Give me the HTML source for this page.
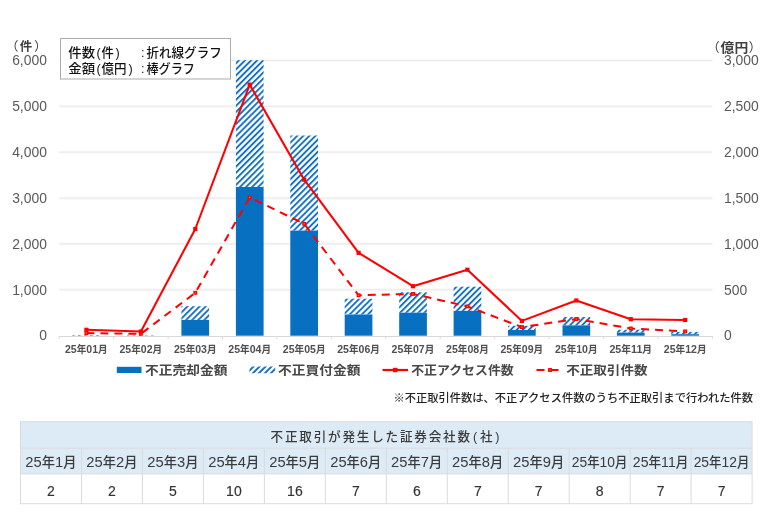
<!DOCTYPE html>
<html lang="ja">
<head>
<meta charset="utf-8">
<title>不正アクセス・不正取引の状況</title>
<style>
html,body{margin:0;padding:0;background:#fff;}
body{width:768px;height:531px;overflow:hidden;}
svg{display:block;}
text{font-family:"Liberation Sans", "Noto Sans CJK JP", sans-serif;}
.ax{font-size:13.9px;fill:#595959;}
.cat{font-size:10.2px;font-weight:700;fill:#505050;}
.cd{font-size:11.2px;}
.lg{font-size:12.5px;font-weight:700;fill:#484848;}
.th{font-size:13.3px;font-weight:500;fill:#3a3a3a;}
.dg{font-size:14.8px;}
.td{font-size:14px;font-weight:400;fill:#333;stroke:#333;stroke-width:0.15px;}
</style>
</head>
<body>
<svg width="768" height="531" viewBox="0 0 768 531">
<defs>
<pattern id="hatch" width="4.3" height="4" patternUnits="userSpaceOnUse" patternTransform="rotate(45)">
<rect x="0" y="0" width="4.3" height="4" fill="#ffffff"/>
<rect x="0" y="0" width="1.9" height="4" fill="#1271c2"/>
</pattern>
</defs>
<rect x="0" y="0" width="768" height="531" fill="#ffffff"/>

<g stroke="#f7f7f7" stroke-width="2.6" fill="none">
<line x1="59.2" y1="60.5" x2="712.4" y2="60.5"/>
<line x1="59.2" y1="106.3" x2="712.4" y2="106.3"/>
<line x1="59.2" y1="152.2" x2="712.4" y2="152.2"/>
<line x1="59.2" y1="198.1" x2="712.4" y2="198.1"/>
<line x1="59.2" y1="243.9" x2="712.4" y2="243.9"/>
<line x1="59.2" y1="289.8" x2="712.4" y2="289.8"/>
</g>
<g stroke="#eaeaea" stroke-width="1" fill="none">
<line x1="59.2" y1="60.5" x2="712.4" y2="60.5"/>
<line x1="59.2" y1="106.3" x2="712.4" y2="106.3"/>
<line x1="59.2" y1="152.2" x2="712.4" y2="152.2"/>
<line x1="59.2" y1="198.1" x2="712.4" y2="198.1"/>
<line x1="59.2" y1="243.9" x2="712.4" y2="243.9"/>
<line x1="59.2" y1="289.8" x2="712.4" y2="289.8"/>
</g>
<g stroke="#d9d9d9" stroke-width="1" fill="none">
<line x1="59.2" y1="336.5" x2="712.4" y2="336.5"/>
<line x1="59.2" y1="336" x2="59.2" y2="339"/>
<line x1="113.6" y1="336" x2="113.6" y2="339"/>
<line x1="168.1" y1="336" x2="168.1" y2="339"/>
<line x1="222.5" y1="336" x2="222.5" y2="339"/>
<line x1="276.9" y1="336" x2="276.9" y2="339"/>
<line x1="331.4" y1="336" x2="331.4" y2="339"/>
<line x1="385.8" y1="336" x2="385.8" y2="339"/>
<line x1="440.2" y1="336" x2="440.2" y2="339"/>
<line x1="494.7" y1="336" x2="494.7" y2="339"/>
<line x1="549.1" y1="336" x2="549.1" y2="339"/>
<line x1="603.5" y1="336" x2="603.5" y2="339"/>
<line x1="658.0" y1="336" x2="658.0" y2="339"/>
<line x1="712.4" y1="336" x2="712.4" y2="339"/>
</g>
<g>
<rect x="72.6" y="335.1" width="27.7" height="0.6" fill="url(#hatch)"/>
<rect x="72.6" y="335.7" width="27.7" height="0.0" fill="#0870c1"/>
<rect x="127.0" y="335.3" width="27.7" height="0.4" fill="url(#hatch)"/>
<rect x="127.0" y="335.7" width="27.7" height="0.0" fill="#0870c1"/>
<rect x="181.4" y="306.2" width="27.7" height="13.7" fill="url(#hatch)"/>
<rect x="181.4" y="319.9" width="27.7" height="15.8" fill="#0870c1"/>
<rect x="235.9" y="60.2" width="27.7" height="126.8" fill="url(#hatch)"/>
<rect x="235.9" y="187.0" width="27.7" height="148.7" fill="#0870c1"/>
<rect x="290.3" y="135.5" width="27.7" height="95.1" fill="url(#hatch)"/>
<rect x="290.3" y="230.6" width="27.7" height="105.1" fill="#0870c1"/>
<rect x="344.7" y="298.7" width="27.7" height="15.8" fill="url(#hatch)"/>
<rect x="344.7" y="314.5" width="27.7" height="21.2" fill="#0870c1"/>
<rect x="399.2" y="292.3" width="27.7" height="20.4" fill="url(#hatch)"/>
<rect x="399.2" y="312.7" width="27.7" height="23.0" fill="#0870c1"/>
<rect x="453.6" y="286.7" width="27.7" height="24.2" fill="url(#hatch)"/>
<rect x="453.6" y="310.9" width="27.7" height="24.8" fill="#0870c1"/>
<rect x="508.0" y="325.8" width="27.7" height="4.2" fill="url(#hatch)"/>
<rect x="508.0" y="330.0" width="27.7" height="5.7" fill="#0870c1"/>
<rect x="562.5" y="317.0" width="27.7" height="8.4" fill="url(#hatch)"/>
<rect x="562.5" y="325.4" width="27.7" height="10.3" fill="#0870c1"/>
<rect x="616.9" y="329.7" width="27.7" height="2.9" fill="url(#hatch)"/>
<rect x="616.9" y="332.6" width="27.7" height="3.1" fill="#0870c1"/>
<rect x="671.3" y="331.9" width="27.7" height="2.3" fill="url(#hatch)"/>
<rect x="671.3" y="334.2" width="27.7" height="1.5" fill="#0870c1"/>
</g>
<polyline points="86.4,333.1 140.9,333.8 195.3,292.8 249.7,197.4 304.2,223.8 358.6,295.3 413.0,293.9 467.4,306.4 521.9,327.1 576.3,319.0 630.8,328.5 685.2,331.4" fill="none" stroke="#ff0000" stroke-width="2" stroke-dasharray="8 6" stroke-linejoin="round"/>
<polyline points="86.4,329.8 140.9,331.5 195.3,229.0 249.7,84.6 304.2,179.7 358.6,252.8 413.0,286.2 467.4,269.7 521.9,320.9 576.3,300.5 630.8,319.2 685.2,320.0" fill="none" stroke="#ff0000" stroke-width="2.05" stroke-linejoin="round"/>
<rect x="85.1" y="331.8" width="2.6" height="2.6" fill="#f7701a" stroke="#ff0000" stroke-width="1.3"/>
<rect x="139.6" y="332.5" width="2.6" height="2.6" fill="#f7701a" stroke="#ff0000" stroke-width="1.3"/>
<rect x="194.0" y="291.5" width="2.6" height="2.6" fill="#f7701a" stroke="#ff0000" stroke-width="1.3"/>
<rect x="248.4" y="196.1" width="2.6" height="2.6" fill="#f7701a" stroke="#ff0000" stroke-width="1.3"/>
<rect x="302.9" y="222.5" width="2.6" height="2.6" fill="#f7701a" stroke="#ff0000" stroke-width="1.3"/>
<rect x="357.3" y="294.0" width="2.6" height="2.6" fill="#f7701a" stroke="#ff0000" stroke-width="1.3"/>
<rect x="411.7" y="292.6" width="2.6" height="2.6" fill="#f7701a" stroke="#ff0000" stroke-width="1.3"/>
<rect x="466.1" y="305.1" width="2.6" height="2.6" fill="#f7701a" stroke="#ff0000" stroke-width="1.3"/>
<rect x="520.6" y="325.8" width="2.6" height="2.6" fill="#f7701a" stroke="#ff0000" stroke-width="1.3"/>
<rect x="575.0" y="317.7" width="2.6" height="2.6" fill="#f7701a" stroke="#ff0000" stroke-width="1.3"/>
<rect x="629.5" y="327.2" width="2.6" height="2.6" fill="#f7701a" stroke="#ff0000" stroke-width="1.3"/>
<rect x="683.9" y="330.1" width="2.6" height="2.6" fill="#f7701a" stroke="#ff0000" stroke-width="1.3"/>
<rect x="84.3" y="327.7" width="4.2" height="4.2" fill="#ff0000"/>
<rect x="138.8" y="329.4" width="4.2" height="4.2" fill="#ff0000"/>
<rect x="193.2" y="226.9" width="4.2" height="4.2" fill="#ff0000"/>
<rect x="247.6" y="82.5" width="4.2" height="4.2" fill="#ff0000"/>
<rect x="302.1" y="177.6" width="4.2" height="4.2" fill="#ff0000"/>
<rect x="356.5" y="250.7" width="4.2" height="4.2" fill="#ff0000"/>
<rect x="410.9" y="284.1" width="4.2" height="4.2" fill="#ff0000"/>
<rect x="465.3" y="267.6" width="4.2" height="4.2" fill="#ff0000"/>
<rect x="519.8" y="318.8" width="4.2" height="4.2" fill="#ff0000"/>
<rect x="574.2" y="298.4" width="4.2" height="4.2" fill="#ff0000"/>
<rect x="628.7" y="317.1" width="4.2" height="4.2" fill="#ff0000"/>
<rect x="683.1" y="317.9" width="4.2" height="4.2" fill="#ff0000"/>
<text class="ax" x="46.9" y="65.3" text-anchor="end">6,000</text>
<text class="ax" x="46.9" y="111.1" text-anchor="end">5,000</text>
<text class="ax" x="46.9" y="157.0" text-anchor="end">4,000</text>
<text class="ax" x="46.9" y="202.9" text-anchor="end">3,000</text>
<text class="ax" x="46.9" y="248.7" text-anchor="end">2,000</text>
<text class="ax" x="46.9" y="294.6" text-anchor="end">1,000</text>
<text class="ax" x="46.9" y="340.4" text-anchor="end">0</text>
<text class="ax" x="724" y="65.3">3,000</text>
<text class="ax" x="724" y="111.1">2,500</text>
<text class="ax" x="724" y="157.0">2,000</text>
<text class="ax" x="724" y="202.9">1,500</text>
<text class="ax" x="724" y="248.7">1,000</text>
<text class="ax" x="724" y="294.6">500</text>
<text class="ax" x="724" y="340.4">0</text>
<text font-size="12.4" font-weight="700" fill="#404040"><tspan x="6.0" y="50.6" font-weight="400">（</tspan><tspan x="19.7" y="50.9">件</tspan><tspan x="34.2" y="50.6" font-weight="400">）</tspan></text>
<text font-size="12.6" font-weight="700" fill="#404040"><tspan x="707.0" y="52" font-weight="400">（</tspan><tspan x="720.6" y="52.2" textLength="27.6" lengthAdjust="spacingAndGlyphs">億円</tspan><tspan x="748.8" y="52" font-weight="400">）</tspan></text>
<text class="cat" x="65.0" y="353.4" textLength="42.7" lengthAdjust="spacingAndGlyphs"><tspan class="cd">25</tspan>年<tspan class="cd">01</tspan>月</text>
<text class="cat" x="119.5" y="353.4" textLength="42.7" lengthAdjust="spacingAndGlyphs"><tspan class="cd">25</tspan>年<tspan class="cd">02</tspan>月</text>
<text class="cat" x="173.9" y="353.4" textLength="42.7" lengthAdjust="spacingAndGlyphs"><tspan class="cd">25</tspan>年<tspan class="cd">03</tspan>月</text>
<text class="cat" x="228.3" y="353.4" textLength="42.7" lengthAdjust="spacingAndGlyphs"><tspan class="cd">25</tspan>年<tspan class="cd">04</tspan>月</text>
<text class="cat" x="282.8" y="353.4" textLength="42.7" lengthAdjust="spacingAndGlyphs"><tspan class="cd">25</tspan>年<tspan class="cd">05</tspan>月</text>
<text class="cat" x="337.2" y="353.4" textLength="42.7" lengthAdjust="spacingAndGlyphs"><tspan class="cd">25</tspan>年<tspan class="cd">06</tspan>月</text>
<text class="cat" x="391.6" y="353.4" textLength="42.7" lengthAdjust="spacingAndGlyphs"><tspan class="cd">25</tspan>年<tspan class="cd">07</tspan>月</text>
<text class="cat" x="446.1" y="353.4" textLength="42.7" lengthAdjust="spacingAndGlyphs"><tspan class="cd">25</tspan>年<tspan class="cd">08</tspan>月</text>
<text class="cat" x="500.5" y="353.4" textLength="42.7" lengthAdjust="spacingAndGlyphs"><tspan class="cd">25</tspan>年<tspan class="cd">09</tspan>月</text>
<text class="cat" x="554.9" y="353.4" textLength="42.7" lengthAdjust="spacingAndGlyphs"><tspan class="cd">25</tspan>年<tspan class="cd">10</tspan>月</text>
<text class="cat" x="609.4" y="353.4" textLength="42.7" lengthAdjust="spacingAndGlyphs"><tspan class="cd">25</tspan>年<tspan class="cd">11</tspan>月</text>
<text class="cat" x="663.8" y="353.4" textLength="42.7" lengthAdjust="spacingAndGlyphs"><tspan class="cd">25</tspan>年<tspan class="cd">12</tspan>月</text>
<rect x="60.5" y="38.5" width="170" height="40.5" fill="#ffffff" stroke="#ababab" stroke-width="1"/>
<g font-size="12.6" font-weight="500" fill="#111">
<text y="56.6"><tspan x="68.3" textLength="26.8" lengthAdjust="spacingAndGlyphs">件数</tspan><tspan x="96.5">(</tspan><tspan x="101.4" textLength="12.3" lengthAdjust="spacingAndGlyphs">件</tspan><tspan x="115.6">)</tspan><tspan x="141">:</tspan></text>
<text y="72.6"><tspan x="68.3" textLength="26.8" lengthAdjust="spacingAndGlyphs">金額</tspan><tspan x="96.5">(</tspan><tspan x="101.4" textLength="25.0" lengthAdjust="spacingAndGlyphs">億円</tspan><tspan x="128.6">)</tspan><tspan x="141">:</tspan></text>
<text x="146.5" y="56.6" textLength="75.2" lengthAdjust="spacingAndGlyphs">折れ線グラフ</text>
<text x="146.5" y="72.6" textLength="48.3" lengthAdjust="spacingAndGlyphs">棒グラフ</text>
</g>
<rect x="116.8" y="366.8" width="24.7" height="6.2" fill="#0870c1"/>
<text class="lg" x="145" y="375" textLength="82.5" lengthAdjust="spacingAndGlyphs">不正売却金額</text>
<clipPath id="swc"><rect x="249.5" y="366.6" width="25.7" height="6.6"/></clipPath>
<g clip-path="url(#swc)" stroke="#1271c2" stroke-width="1.9" fill="none">
<line x1="245.9" y1="374.2" x2="254.5" y2="365.6"/>
<line x1="251.9" y1="374.2" x2="260.5" y2="365.6"/>
<line x1="257.9" y1="374.2" x2="266.5" y2="365.6"/>
<line x1="263.9" y1="374.2" x2="272.5" y2="365.6"/>
<line x1="269.9" y1="374.2" x2="278.5" y2="365.6"/>
</g>
<text class="lg" x="278" y="375" textLength="82.5" lengthAdjust="spacingAndGlyphs">不正買付金額</text>
<line x1="382.5" y1="370" x2="408" y2="370" stroke="#ff0000" stroke-width="2.2"/>
<rect x="393.1" y="367.8" width="4.4" height="4.4" fill="#ff0000"/>
<text class="lg" x="411.2" y="375" textLength="102.5" lengthAdjust="spacingAndGlyphs">不正アクセス件数</text>
<line x1="536.5" y1="370" x2="558.7" y2="370" stroke="#ff0000" stroke-width="2" stroke-dasharray="8 6"/>
<rect x="548.7" y="368.7" width="2.6" height="2.6" fill="#f7701a" stroke="#ff0000" stroke-width="1.3"/>
<text class="lg" x="566.2" y="375" textLength="81.3" lengthAdjust="spacingAndGlyphs">不正取引件数</text>
<text x="393.4" y="401.6" font-size="11" font-weight="500" fill="#222" textLength="359.6" lengthAdjust="spacingAndGlyphs">※不正取引件数は、不正アクセス件数のうち不正取引まで行われた件数</text>
<rect x="20.5" y="421.7" width="731.6" height="52.2" fill="#ddebf7"/>
<g stroke="#dbdbdb" stroke-width="1" fill="none">
<rect x="20.5" y="421.7" width="731.6" height="82"/>
<line x1="20.5" y1="448.2" x2="752.1" y2="448.2"/>
<line x1="20.5" y1="473.9" x2="752.1" y2="473.9"/>
<line x1="81.5" y1="448.2" x2="81.5" y2="503.7"/>
<line x1="142.4" y1="448.2" x2="142.4" y2="503.7"/>
<line x1="203.4" y1="448.2" x2="203.4" y2="503.7"/>
<line x1="264.4" y1="448.2" x2="264.4" y2="503.7"/>
<line x1="325.3" y1="448.2" x2="325.3" y2="503.7"/>
<line x1="386.3" y1="448.2" x2="386.3" y2="503.7"/>
<line x1="447.3" y1="448.2" x2="447.3" y2="503.7"/>
<line x1="508.2" y1="448.2" x2="508.2" y2="503.7"/>
<line x1="569.2" y1="448.2" x2="569.2" y2="503.7"/>
<line x1="630.2" y1="448.2" x2="630.2" y2="503.7"/>
<line x1="691.1" y1="448.2" x2="691.1" y2="503.7"/>
</g>
<text class="th" style="font-size:12.6px" y="440.8"><tspan x="270.5" textLength="199.6" lengthAdjust="spacing">不正取引が発生した証券会社数</tspan><tspan x="473.1">(</tspan><tspan x="480.0">社</tspan><tspan x="495.3">)</tspan></text>
<text class="th" x="25.3" y="466.6" textLength="51.1" lengthAdjust="spacingAndGlyphs"><tspan class="dg">25</tspan>年<tspan class="dg">1</tspan>月</text>
<text class="td" x="51.0" y="495.8" text-anchor="middle">2</text>
<text class="th" x="86.3" y="466.6" textLength="51.1" lengthAdjust="spacingAndGlyphs"><tspan class="dg">25</tspan>年<tspan class="dg">2</tspan>月</text>
<text class="td" x="112.0" y="495.8" text-anchor="middle">2</text>
<text class="th" x="147.3" y="466.6" textLength="51.1" lengthAdjust="spacingAndGlyphs"><tspan class="dg">25</tspan>年<tspan class="dg">3</tspan>月</text>
<text class="td" x="172.9" y="495.8" text-anchor="middle">5</text>
<text class="th" x="208.2" y="466.6" textLength="51.1" lengthAdjust="spacingAndGlyphs"><tspan class="dg">25</tspan>年<tspan class="dg">4</tspan>月</text>
<text class="td" x="233.9" y="495.8" text-anchor="middle">10</text>
<text class="th" x="269.2" y="466.6" textLength="51.1" lengthAdjust="spacingAndGlyphs"><tspan class="dg">25</tspan>年<tspan class="dg">5</tspan>月</text>
<text class="td" x="294.9" y="495.8" text-anchor="middle">16</text>
<text class="th" x="330.2" y="466.6" textLength="51.1" lengthAdjust="spacingAndGlyphs"><tspan class="dg">25</tspan>年<tspan class="dg">6</tspan>月</text>
<text class="td" x="355.8" y="495.8" text-anchor="middle">7</text>
<text class="th" x="391.1" y="466.6" textLength="51.1" lengthAdjust="spacingAndGlyphs"><tspan class="dg">25</tspan>年<tspan class="dg">7</tspan>月</text>
<text class="td" x="416.8" y="495.8" text-anchor="middle">6</text>
<text class="th" x="452.1" y="466.6" textLength="51.1" lengthAdjust="spacingAndGlyphs"><tspan class="dg">25</tspan>年<tspan class="dg">8</tspan>月</text>
<text class="td" x="477.8" y="495.8" text-anchor="middle">7</text>
<text class="th" x="513.1" y="466.6" textLength="51.1" lengthAdjust="spacingAndGlyphs"><tspan class="dg">25</tspan>年<tspan class="dg">9</tspan>月</text>
<text class="td" x="538.7" y="495.8" text-anchor="middle">7</text>
<text class="th" x="571.8" y="466.6" textLength="55.6" lengthAdjust="spacingAndGlyphs"><tspan class="dg">25</tspan>年<tspan class="dg">10</tspan>月</text>
<text class="td" x="599.7" y="495.8" text-anchor="middle">8</text>
<text class="th" x="632.8" y="466.6" textLength="55.6" lengthAdjust="spacingAndGlyphs"><tspan class="dg">25</tspan>年<tspan class="dg">11</tspan>月</text>
<text class="td" x="660.6" y="495.8" text-anchor="middle">7</text>
<text class="th" x="693.7" y="466.6" textLength="55.6" lengthAdjust="spacingAndGlyphs"><tspan class="dg">25</tspan>年<tspan class="dg">12</tspan>月</text>
<text class="td" x="721.6" y="495.8" text-anchor="middle">7</text>
</svg>
</body>
</html>
